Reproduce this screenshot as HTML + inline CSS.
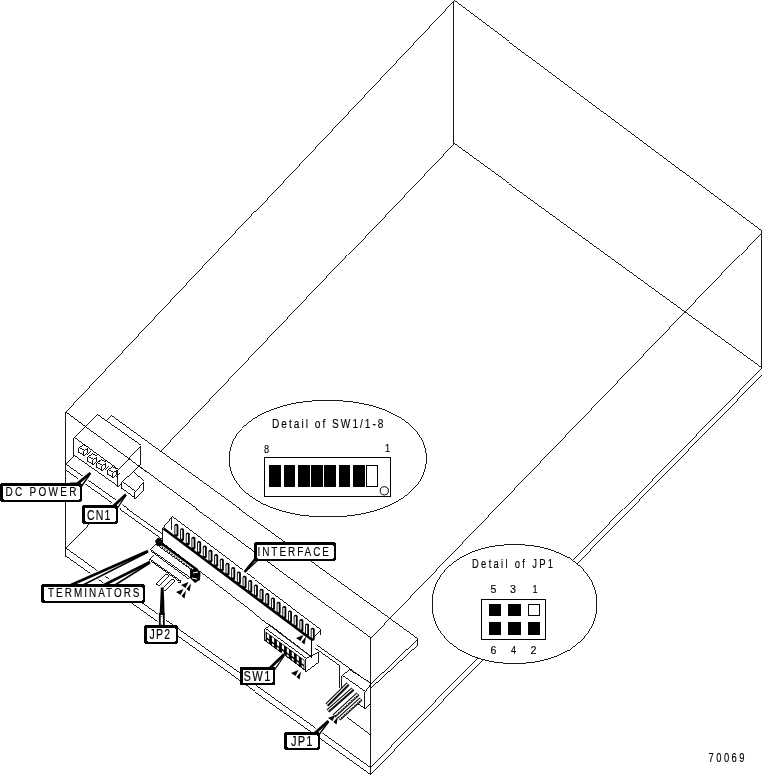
<!DOCTYPE html>
<html><head><meta charset="utf-8">
<style>
html,body{margin:0;padding:0;background:#fff;width:762px;height:775px;overflow:hidden}
svg{position:absolute;left:0;top:0;display:block;will-change:transform}
text{font-family:"Liberation Sans",sans-serif;fill:#000;stroke:#000;stroke-width:0.15px}
</style></head><body>
<svg width="762" height="775" viewBox="0 0 762 775">
<g stroke="#000" stroke-width="0.9" fill="none" shape-rendering="crispEdges">
<path d="M453.5 0.5 L761.5 230.5 L761.5 367.5 L453.5 143.5 L453.5 0.5" />
<path d="M453.5 0.5 L65.5 412.5 L65.5 556.5" />
<path d="M453.5 143.5 L160.5 451.5" />
<path d="M65.5 548.5 L110.5 502.5" />
<path d="M760.5 233.5 L371.5 637.5" />
<path d="M761.5 367.5 L370.5 767.5" />
<path d="M762.5 374.5 L370.5 774.5" />
<path d="M65.5 412.5 L370.5 637.5" />
<path d="M110.5 415.5 L417.5 638.5 L417.5 644.5" />
<path d="M65.5 548.5 L370.5 767.5" />
<path d="M65.5 556.5 L370.5 774.5" />
<path d="M65.5 463.5 L73.5 455.5" />
<path d="M65.5 464.5 L370.5 683.5" />
<path d="M65.5 470.5 L339.5 665.5 L339.5 687.5" />
<path d="M417.5 638.5 L370.5 683.5" />
<path d="M417.5 644.5 L370.5 687.5" />
<path d="M346.5 717.5 L370.5 735.5" />
</g>
<path d="M73.5 437.5 L96.5 414.5 L140.5 445.5 L140.5 463.5 L117.5 486.5 L73.5 455.5 Z" fill="#fff" stroke="#000" stroke-width="0.9" shape-rendering="crispEdges"/>
<g stroke="#000" stroke-width="0.9" fill="none" shape-rendering="crispEdges">
<path d="M73.5 437.5 L117.5 469.5 L140.5 445.5" />
<path d="M117.5 469.5 L117.5 486.5" />
<path d="M65.5 412.5 L146.5 472.5" />
<path d="M105.5 420.5 L110.5 415.5" />
<path d="M78.5 447.5 L83.5 450.5 L83.5 455.5 L78.5 452.5 L78.5 447.5" />
<path d="M78.5 447.5 L82.5 444.5 L87.5 447.5 L83.5 450.5" />
<path d="M87.5 447.5 L87.5 451.5 L83.5 455.5" />
<path d="M86.5 454.5 L90.5 450.5" />
<path d="M87.5 456.5 L92.5 459.5 L92.5 464.5 L87.5 461.5 L87.5 456.5" />
<path d="M87.5 456.5 L91.5 453.5 L96.5 456.5 L92.5 459.5" />
<path d="M96.5 456.5 L96.5 460.5 L92.5 464.5" />
<path d="M95.5 463.5 L99.5 459.5" />
<path d="M96.5 462.5 L101.5 465.5 L101.5 470.5 L96.5 467.5 L96.5 462.5" />
<path d="M96.5 462.5 L100.5 459.5 L105.5 462.5 L101.5 465.5" />
<path d="M105.5 462.5 L105.5 466.5 L101.5 470.5" />
<path d="M104.5 469.5 L108.5 465.5" />
<path d="M107.5 469.5 L112.5 472.5 L112.5 477.5 L107.5 474.5 L107.5 469.5" />
<path d="M107.5 469.5 L111.5 466.5 L116.5 469.5 L112.5 472.5" />
<path d="M116.5 469.5 L116.5 473.5 L112.5 477.5" />
<path d="M115.5 476.5 L119.5 472.5" />
</g>
<path d="M121.5 481.5 L132.5 471.5 L143.5 481.5 L143.5 489.5 L134.5 498.5 L121.5 488.5 Z" fill="#fff" stroke="#000" stroke-width="0.9" shape-rendering="crispEdges"/>
<g stroke="#000" stroke-width="0.9" fill="none" shape-rendering="crispEdges">
<path d="M121.5 481.5 L134.5 491.5 L143.5 481.5" />
<path d="M134.5 491.5 L134.5 498.5" />
<path d="M132.5 471.5 L140.5 463.5" />
</g>
<path d="M162.50 527.50 L171.50 516.50 L320.50 629.50 L320.50 634.50 L311.50 657.50 L162.50 543.50 Z" fill="#fff"/>
<g stroke="#000" stroke-width="0.9" fill="none" shape-rendering="crispEdges">
<path d="M162.5 527.5 L171.5 516.5 L320.5 629.5 L320.5 634.5" />
<path d="M162.5 527.5 L162.5 543.5 L311.5 657.5 L311.5 638.5 L320.5 629.5" />
<path d="M171.5 516.5 L171.5 529.5" />
</g>
<g><rect x="174.40" y="523.80" width="4" height="13" rx="1.8" fill="#000"/><rect x="175.30" y="525.40" width="1.3" height="9" rx="0.6" fill="#fff"/><rect x="180.08" y="528.13" width="4" height="13" rx="1.8" fill="#000"/><rect x="180.98" y="529.73" width="1.3" height="9" rx="0.6" fill="#fff"/><rect x="185.76" y="532.46" width="4" height="13" rx="1.8" fill="#000"/><rect x="186.66" y="534.06" width="1.3" height="9" rx="0.6" fill="#fff"/><rect x="191.44" y="536.79" width="4" height="13" rx="1.8" fill="#000"/><rect x="192.34" y="538.39" width="1.3" height="9" rx="0.6" fill="#fff"/><rect x="197.12" y="541.12" width="4" height="13" rx="1.8" fill="#000"/><rect x="198.02" y="542.72" width="1.3" height="9" rx="0.6" fill="#fff"/><rect x="202.80" y="545.45" width="4" height="13" rx="1.8" fill="#000"/><rect x="203.70" y="547.05" width="1.3" height="9" rx="0.6" fill="#fff"/><rect x="208.48" y="549.78" width="4" height="13" rx="1.8" fill="#000"/><rect x="209.38" y="551.38" width="1.3" height="9" rx="0.6" fill="#fff"/><rect x="214.16" y="554.11" width="4" height="13" rx="1.8" fill="#000"/><rect x="215.06" y="555.71" width="1.3" height="9" rx="0.6" fill="#fff"/><rect x="219.84" y="558.44" width="4" height="13" rx="1.8" fill="#000"/><rect x="220.74" y="560.04" width="1.3" height="9" rx="0.6" fill="#fff"/><rect x="225.52" y="562.77" width="4" height="13" rx="1.8" fill="#000"/><rect x="226.42" y="564.37" width="1.3" height="9" rx="0.6" fill="#fff"/><rect x="231.20" y="567.10" width="4" height="13" rx="1.8" fill="#000"/><rect x="232.10" y="568.70" width="1.3" height="9" rx="0.6" fill="#fff"/><rect x="236.88" y="571.43" width="4" height="13" rx="1.8" fill="#000"/><rect x="237.78" y="573.03" width="1.3" height="9" rx="0.6" fill="#fff"/><rect x="242.56" y="575.76" width="4" height="13" rx="1.8" fill="#000"/><rect x="243.46" y="577.36" width="1.3" height="9" rx="0.6" fill="#fff"/><rect x="248.24" y="580.09" width="4" height="13" rx="1.8" fill="#000"/><rect x="249.14" y="581.69" width="1.3" height="9" rx="0.6" fill="#fff"/><rect x="253.92" y="584.42" width="4" height="13" rx="1.8" fill="#000"/><rect x="254.82" y="586.02" width="1.3" height="9" rx="0.6" fill="#fff"/><rect x="259.60" y="588.75" width="4" height="13" rx="1.8" fill="#000"/><rect x="260.50" y="590.35" width="1.3" height="9" rx="0.6" fill="#fff"/><rect x="265.28" y="593.08" width="4" height="13" rx="1.8" fill="#000"/><rect x="266.18" y="594.68" width="1.3" height="9" rx="0.6" fill="#fff"/><rect x="270.96" y="597.41" width="4" height="13" rx="1.8" fill="#000"/><rect x="271.86" y="599.01" width="1.3" height="9" rx="0.6" fill="#fff"/><rect x="276.64" y="601.74" width="4" height="13" rx="1.8" fill="#000"/><rect x="277.54" y="603.34" width="1.3" height="9" rx="0.6" fill="#fff"/><rect x="282.32" y="606.07" width="4" height="13" rx="1.8" fill="#000"/><rect x="283.22" y="607.67" width="1.3" height="9" rx="0.6" fill="#fff"/><rect x="288.00" y="610.40" width="4" height="13" rx="1.8" fill="#000"/><rect x="288.90" y="612.00" width="1.3" height="9" rx="0.6" fill="#fff"/><rect x="293.68" y="614.73" width="4" height="13" rx="1.8" fill="#000"/><rect x="294.58" y="616.33" width="1.3" height="9" rx="0.6" fill="#fff"/><rect x="299.36" y="619.06" width="4" height="13" rx="1.8" fill="#000"/><rect x="300.26" y="620.66" width="1.3" height="9" rx="0.6" fill="#fff"/><rect x="305.04" y="623.39" width="4" height="13" rx="1.8" fill="#000"/><rect x="305.94" y="624.99" width="1.3" height="9" rx="0.6" fill="#fff"/><rect x="310.72" y="627.72" width="4" height="13" rx="1.8" fill="#000"/><rect x="311.62" y="629.32" width="1.3" height="9" rx="0.6" fill="#fff"/></g>
<path d="M163.5 528.5 L311.5 639.5" stroke="#000" stroke-width="2.6" fill="none"/>
<path d="M264.50 628.50 L268.50 625.50 L311.50 657.50 L318.50 651.50 L318.50 661.50 L305.50 671.50 L264.50 640.50 Z" fill="#fff"/>
<g stroke="#000" stroke-width="0.9" fill="none" shape-rendering="crispEdges">
<path d="M264.5 628.5 L268.5 625.5" />
<path d="M264.5 628.5 L305.5 658.5 L318.5 651.5 L318.5 661.5 L305.5 671.5 L264.5 640.5 L264.5 628.5" />
<path d="M305.5 658.5 L305.5 671.5" />
<path d="M268.5 624.5 L311.5 657.5 L311.5 638.5" />
</g>
<path d="M265.60 631.60 L304.40 660.10 L304.40 670.00 L265.60 641.60 Z" fill="#000"/>
<path d="M267.00 633.35 L269.20 634.96 L269.20 639.36 L267.00 637.60 Z" fill="#fff"/>
<path d="M267.00 639.50 L269.00 640.97 L269.00 642.97 L267.00 641.50 Z" fill="#fff"/>
<path d="M271.95 636.99 L274.15 638.60 L274.15 643.00 L271.95 641.24 Z" fill="#fff"/>
<path d="M271.95 643.14 L273.95 644.61 L273.95 646.61 L271.95 645.14 Z" fill="#fff"/>
<path d="M276.90 640.62 L279.10 642.24 L279.10 646.64 L276.90 644.88 Z" fill="#fff"/>
<path d="M276.90 646.78 L278.90 648.25 L278.90 650.25 L276.90 648.78 Z" fill="#fff"/>
<path d="M281.85 644.26 L284.05 645.88 L284.05 650.28 L281.85 648.51 Z" fill="#fff"/>
<path d="M281.85 650.41 L283.85 651.88 L283.85 653.88 L281.85 652.41 Z" fill="#fff"/>
<path d="M286.80 647.90 L289.00 649.52 L289.00 653.92 L286.80 652.15 Z" fill="#fff"/>
<path d="M286.80 654.05 L288.80 655.52 L288.80 657.52 L286.80 656.05 Z" fill="#fff"/>
<path d="M291.75 651.54 L293.95 653.16 L293.95 657.56 L291.75 655.79 Z" fill="#fff"/>
<path d="M291.75 657.69 L293.75 659.16 L293.75 661.16 L291.75 659.69 Z" fill="#fff"/>
<path d="M296.70 655.18 L298.90 656.79 L298.90 661.19 L296.70 659.43 Z" fill="#fff"/>
<path d="M296.70 661.33 L298.70 662.80 L298.70 664.80 L296.70 663.33 Z" fill="#fff"/>
<path d="M301.65 658.81 L303.85 660.43 L303.85 664.83 L301.65 663.07 Z" fill="#fff"/>
<path d="M301.65 664.97 L303.65 666.44 L303.65 668.44 L301.65 666.97 Z" fill="#fff"/>
<g stroke="#000" stroke-width="0.9" fill="none" shape-rendering="crispEdges">
<path d="M149.5 549.5 L155.5 543.5" />
<path d="M149.5 549.5 L190.5 578.5" />
<path d="M150.5 551.5 L188.5 579.5" />
<path d="M149.5 558.5 L153.5 554.5" />
<path d="M149.5 558.5 L149.5 561.5" />
<path d="M149.5 559.5 L180.5 581.5" />
<path d="M150.5 561.5 L178.5 581.5" />
<path d="M177.5 582.5 L180.5 582.5 L180.5 579.5" />
<path d="M155.5 544.5 L195.5 573.5" />
</g>
<path d="M155.00 541.00 L158.00 537.50 L163.00 540.50 L163.00 545.50 L157.00 546.00 Z" fill="#000"/>
<path d="M158 541 L196 569" stroke="#000" stroke-width="2.2"/>
<path d="M157 543 L194 571" stroke="#000" stroke-width="1.2" stroke-dasharray="1.6 1.4"/>
<path d="M190.00 570.00 L197.00 568.00 L200.50 573.00 L200.00 580.00 L195.00 583.00 L190.00 578.00 Z" fill="#000"/>
<path d="M193 573 L198 572 M192 578 L197 579" stroke="#fff" stroke-width="1"/>
<path d="M156 584 L166 574 L169 576 L159 586 Z" fill="#fff" stroke="#000" stroke-width="0.9" shape-rendering="crispEdges"/>
<path d="M162 589 L172 579 L175 581 L165 591 Z" fill="#fff" stroke="#000" stroke-width="0.9" shape-rendering="crispEdges"/>
<path d="M341.50 675.50 L348.50 669.50 L370.50 683.50 L370.50 702.50 L364.50 708.50 L341.50 690.50 Z" fill="#fff"/>
<g stroke="#000" stroke-width="0.9" fill="none" shape-rendering="crispEdges">
<path d="M341.5 675.5 L348.5 669.5 L370.5 683.5" />
<path d="M341.5 675.5 L364.5 691.5 L370.5 683.5" />
<path d="M341.5 675.5 L341.5 688.5" />
<path d="M364.5 691.5 L364.5 708.5 L370.5 702.5" />
<path d="M356.5 703.5 L364.5 708.5" />
<path d="M370.5 637.5 L370.5 775.5" />
</g>
<path d="M348 684 L327 705" stroke="#000" stroke-width="4.2" stroke-linecap="butt"/>
<path d="M348 684 L327 705" stroke="#fff" stroke-width="2.2"/>
<path d="M348.5 684.5 L327.5 705.5" stroke="#000" stroke-width="1.1"/>
<path d="M353 689 L328 711" stroke="#000" stroke-width="4.2" stroke-linecap="butt"/>
<path d="M353 689 L328 711" stroke="#fff" stroke-width="2.2"/>
<path d="M353.5 689.5 L328.5 711.5" stroke="#000" stroke-width="1.1"/>
<path d="M358 694 L334 716" stroke="#000" stroke-width="4.2" stroke-linecap="butt"/>
<path d="M358 694 L334 716" stroke="#fff" stroke-width="2.2"/>
<path d="M358.5 694.5 L334.5 716.5" stroke="#000" stroke-width="1.2" stroke-dasharray="1.2 1"/>
<path d="M361 699 L339 719" stroke="#000" stroke-width="4.2" stroke-linecap="butt"/>
<path d="M361 699 L339 719" stroke="#fff" stroke-width="2.2"/>
<path d="M361.5 699.5 L339.5 719.5" stroke="#000" stroke-width="1.2" stroke-dasharray="1.2 1"/>
<path d="M296.00 638.00 L303.50 635.00 L300.50 641.00 Z" fill="#000"/>
<path d="M304.50 644.50 L306.00 636.50 L301.50 642.00 Z" fill="#000"/>
<path d="M291.00 673.00 L298.50 670.00 L295.50 676.00 Z" fill="#000"/>
<path d="M299.50 679.50 L301.00 671.50 L296.50 677.00 Z" fill="#000"/>
<path d="M181.00 585.00 L188.50 582.00 L185.50 588.00 Z" fill="#000"/>
<path d="M189.50 591.50 L191.00 583.50 L186.50 589.00 Z" fill="#000"/>
<path d="M176.00 592.00 L183.50 589.00 L180.50 595.00 Z" fill="#000"/>
<path d="M184.50 598.50 L186.00 590.50 L181.50 596.00 Z" fill="#000"/>
<path d="M328.00 718.00 L335.50 715.00 L332.50 721.00 Z" fill="#000"/>
<path d="M336.50 724.50 L338.00 716.50 L333.50 722.00 Z" fill="#000"/>
<path d="M70 484 L77 484 L90.5 473" stroke="#fff" stroke-width="5.8" fill="none" stroke-linejoin="round"/>
<path d="M81 487 L89.5 475" stroke="#fff" stroke-width="4.3" fill="none"/>
<path d="M70 484 L77 484 L90.5 473" stroke="#000" stroke-width="2.8" fill="none"/>
<path d="M81 487 L89.5 475" stroke="#000" stroke-width="1.3" fill="none"/>
<path d="M105 506.5 L113 506.5 L126 494.5" stroke="#fff" stroke-width="5.8" fill="none" stroke-linejoin="round"/>
<path d="M117.5 508 L125.5 496" stroke="#fff" stroke-width="4.3" fill="none"/>
<path d="M105 506.5 L113 506.5 L126 494.5" stroke="#000" stroke-width="2.8" fill="none"/>
<path d="M117.5 508 L125.5 496" stroke="#000" stroke-width="1.3" fill="none"/>
<path d="M71 585 L148 551" stroke="#fff" stroke-width="5.6" fill="none" stroke-linejoin="round"/>
<path d="M83 585 L148 552" stroke="#fff" stroke-width="4.5" fill="none"/>
<path d="M71 585 L148 551" stroke="#000" stroke-width="2.6" fill="none"/>
<path d="M83 585 L148 552" stroke="#000" stroke-width="1.5" fill="none"/>
<path d="M104 585 L150 562" stroke="#fff" stroke-width="5.6" fill="none" stroke-linejoin="round"/>
<path d="M115 585 L150 563" stroke="#fff" stroke-width="4.5" fill="none"/>
<path d="M104 585 L150 562" stroke="#000" stroke-width="2.6" fill="none"/>
<path d="M115 585 L150 563" stroke="#000" stroke-width="1.5" fill="none"/>
<path d="M256 558 L244.5 572" stroke="#fff" stroke-width="5.4" fill="none" stroke-linejoin="round"/>
<path d="M258 560 L245 572" stroke="#fff" stroke-width="4.3" fill="none"/>
<path d="M256 558 L244.5 572" stroke="#000" stroke-width="2.4" fill="none"/>
<path d="M258 560 L245 572" stroke="#000" stroke-width="1.3" fill="none"/>
<path d="M159.5 627 L159.5 614 L161.5 600 L162 588 L164 614 L164 627" stroke="#fff" stroke-width="4" fill="none"/>
<path d="M159.60 615.00 L160.30 600.00 L160.80 587.50 L163.60 587.50 L164.20 600.00 L164.60 615.00 Z" fill="#000"/>
<path d="M159.8 627 L159.8 613 M163.8 627 L163.8 613" stroke="#000" stroke-width="1.8" fill="none"/>
<path d="M270 668 L284 654.5" stroke="#fff" stroke-width="5.8" fill="none" stroke-linejoin="round"/>
<path d="M274.5 670 L284 656" stroke="#fff" stroke-width="4.3" fill="none"/>
<path d="M270 668 L284 654.5" stroke="#000" stroke-width="2.8" fill="none"/>
<path d="M274.5 670 L284 656" stroke="#000" stroke-width="1.3" fill="none"/>
<path d="M315 733 L328.5 721" stroke="#fff" stroke-width="5.8" fill="none" stroke-linejoin="round"/>
<path d="M319.5 734 L328.5 722" stroke="#fff" stroke-width="4.3" fill="none"/>
<path d="M315 733 L328.5 721" stroke="#000" stroke-width="2.8" fill="none"/>
<path d="M319.5 734 L328.5 722" stroke="#000" stroke-width="1.3" fill="none"/>
<rect x="0" y="483" width="82" height="19" rx="3" fill="#000" shape-rendering="crispEdges"/>
<rect x="2.5" y="485.5" width="77.0" height="14.0" rx="1" fill="#fff" shape-rendering="crispEdges"/>
<text transform="translate(5.5 496.0) scale(0.76 1)" font-size="13.14" textLength="93.4" lengthAdjust="spacing">DC POWER</text>
<rect x="82" y="505" width="36" height="19" rx="3" fill="#000" shape-rendering="crispEdges"/>
<rect x="84.5" y="507.5" width="31.0" height="14.0" rx="1" fill="#fff" shape-rendering="crispEdges"/>
<text transform="translate(87.0 520.0) scale(0.76 1)" font-size="13.87" textLength="30.9" lengthAdjust="spacing">CN1</text>
<rect x="41" y="584" width="104" height="19" rx="3" fill="#000" shape-rendering="crispEdges"/>
<rect x="43.5" y="586.5" width="99.0" height="14.0" rx="1" fill="#fff" shape-rendering="crispEdges"/>
<text transform="translate(48.0 597) scale(0.76 1)" font-size="13.08" textLength="120.4" lengthAdjust="spacing">TERMINATORS</text>
<rect x="254" y="542" width="82" height="19" rx="3" fill="#000" shape-rendering="crispEdges"/>
<rect x="256.5" y="544.5" width="77.0" height="14.0" rx="1" fill="#fff" shape-rendering="crispEdges"/>
<text transform="translate(257.5 555.5) scale(0.76 1)" font-size="13.14" textLength="94.1" lengthAdjust="spacing">INTERFACE</text>
<rect x="144" y="625" width="34" height="19" rx="3" fill="#000" shape-rendering="crispEdges"/>
<rect x="146.5" y="627.5" width="29.0" height="14.0" rx="1" fill="#fff" shape-rendering="crispEdges"/>
<text transform="translate(149.5 638.5) scale(0.76 1)" font-size="13.88" textLength="27.0" lengthAdjust="spacing">JP2</text>
<rect x="240" y="667" width="35" height="18" rx="1.5" fill="#000" shape-rendering="crispEdges"/>
<rect x="242.5" y="669.5" width="30.0" height="13.0" rx="0.8" fill="#fff" shape-rendering="crispEdges"/>
<text transform="translate(243.5 681.0) scale(0.76 1)" font-size="14.6" textLength="35.5" lengthAdjust="spacing">SW1</text>
<rect x="284" y="732" width="36" height="18" rx="3" fill="#000" shape-rendering="crispEdges"/>
<rect x="286.5" y="734.5" width="31.0" height="13.0" rx="1" fill="#fff" shape-rendering="crispEdges"/>
<text transform="translate(291 746.0) scale(0.76 1)" font-size="14.6" textLength="28.3" lengthAdjust="spacing">JP1</text>
<path d="M426.34 458.67 L426.21 462.18 L425.83 465.45 L425.18 468.62 L424.29 471.72 L423.14 474.75 L421.74 477.71 L420.10 480.59 L418.21 483.40 L416.08 486.13 L413.72 488.77 L411.14 491.33 L408.33 493.79 L405.30 496.15 L402.07 498.40 L398.63 500.54 L395.01 502.57 L391.19 504.49 L387.20 506.27 L383.04 507.93 L378.72 509.46 L374.25 510.86 L369.63 512.11 L364.88 513.23 L360.00 514.20 L354.99 515.03 L349.87 515.71 L344.63 516.24 L339.26 516.62 L333.73 516.84 L327.79 516.92 L321.85 516.84 L316.32 516.62 L310.95 516.24 L305.71 515.71 L300.59 515.03 L295.58 514.20 L290.70 513.23 L285.95 512.11 L281.33 510.86 L276.86 509.46 L272.54 507.93 L268.38 506.27 L264.39 504.49 L260.57 502.57 L256.95 500.54 L253.51 498.40 L250.28 496.15 L247.25 493.79 L244.44 491.33 L241.86 488.77 L239.50 486.13 L237.37 483.40 L235.48 480.59 L233.84 477.71 L232.44 474.75 L231.29 471.72 L230.40 468.62 L229.75 465.45 L229.37 462.18 L229.24 458.67 L229.37 455.16 L229.75 451.89 L230.40 448.72 L231.29 445.62 L232.44 442.59 L233.84 439.63 L235.48 436.75 L237.37 433.94 L239.50 431.21 L241.86 428.57 L244.44 426.01 L247.25 423.55 L250.28 421.19 L253.51 418.94 L256.95 416.80 L260.57 414.77 L264.39 412.85 L268.38 411.07 L272.54 409.41 L276.86 407.88 L281.33 406.48 L285.95 405.23 L290.70 404.11 L295.58 403.14 L300.59 402.31 L305.71 401.63 L310.95 401.10 L316.32 400.72 L321.85 400.50 L327.79 400.42 L333.73 400.50 L339.26 400.72 L344.63 401.10 L349.87 401.63 L354.99 402.31 L360.00 403.14 L364.88 404.11 L369.63 405.23 L374.25 406.48 L378.72 407.88 L383.04 409.41 L387.20 411.07 L391.19 412.85 L395.01 414.77 L398.63 416.80 L402.07 418.94 L405.30 421.19 L408.33 423.55 L411.14 426.01 L413.72 428.57 L416.08 431.21 L418.21 433.94 L420.10 436.75 L421.74 439.63 L423.14 442.59 L424.29 445.62 L425.18 448.72 L425.83 451.89 L426.21 455.16 Z" fill="#fff" stroke="#000" stroke-width="0.9" shape-rendering="crispEdges"/>
<text transform="translate(272.0 427.5) scale(0.76 1)" font-size="13.3" textLength="146.7" lengthAdjust="spacing">Detail of SW1/1-8</text>
<text transform="translate(264.0 453.0) scale(0.8 1)" font-size="11.52">8</text>
<text transform="translate(385.0 452.0) scale(0.8 1)" font-size="11.43">1</text>
<g shape-rendering="crispEdges">
<rect x="264.5" y="457.5" width="126" height="39" fill="none" stroke="#000"/>
<rect x="269" y="465" width="12" height="22"/>
<rect x="284" y="465" width="11" height="22"/>
<rect x="298" y="465" width="12" height="22"/>
<rect x="311" y="465" width="12" height="22"/>
<rect x="324" y="465" width="12" height="22"/>
<rect x="339" y="465" width="11" height="22"/>
<rect x="353" y="465" width="12" height="22"/>
<rect x="366.5" y="465.5" width="11" height="21" fill="none" stroke="#000"/>
</g>
<circle cx="384.3" cy="490.8" r="4.1" fill="none" stroke="#000"/>
<path d="M596.90 604.06 L596.79 607.64 L596.47 610.98 L595.93 614.22 L595.18 617.38 L594.22 620.47 L593.05 623.49 L591.68 626.43 L590.10 629.30 L588.32 632.08 L586.35 634.78 L584.18 637.39 L581.83 639.90 L579.30 642.31 L576.60 644.61 L573.73 646.80 L570.69 648.87 L567.50 650.82 L564.16 652.64 L560.68 654.34 L557.07 655.90 L553.33 657.32 L549.46 658.60 L545.49 659.74 L541.41 660.74 L537.22 661.58 L532.94 662.27 L528.56 662.81 L524.06 663.20 L519.43 663.43 L514.47 663.51 L509.51 663.43 L504.88 663.20 L500.38 662.81 L496.00 662.27 L491.72 661.58 L487.53 660.74 L483.45 659.74 L479.48 658.60 L475.61 657.32 L471.87 655.90 L468.26 654.34 L464.78 652.64 L461.44 650.82 L458.25 648.87 L455.21 646.80 L452.34 644.61 L449.64 642.31 L447.11 639.90 L444.76 637.39 L442.59 634.78 L440.62 632.08 L438.84 629.30 L437.26 626.43 L435.89 623.49 L434.72 620.47 L433.76 617.38 L433.01 614.22 L432.47 610.98 L432.15 607.64 L432.04 604.06 L432.15 600.48 L432.47 597.14 L433.01 593.90 L433.76 590.74 L434.72 587.65 L435.89 584.63 L437.26 581.69 L438.84 578.82 L440.62 576.04 L442.59 573.34 L444.76 570.73 L447.11 568.22 L449.64 565.81 L452.34 563.51 L455.21 561.32 L458.25 559.25 L461.44 557.30 L464.78 555.48 L468.26 553.78 L471.87 552.22 L475.61 550.80 L479.48 549.52 L483.45 548.38 L487.53 547.38 L491.72 546.54 L496.00 545.85 L500.38 545.31 L504.88 544.92 L509.51 544.69 L514.47 544.61 L519.43 544.69 L524.06 544.92 L528.56 545.31 L532.94 545.85 L537.22 546.54 L541.41 547.38 L545.49 548.38 L549.46 549.52 L553.33 550.80 L557.07 552.22 L560.68 553.78 L564.16 555.48 L567.50 557.30 L570.69 559.25 L573.73 561.32 L576.60 563.51 L579.30 565.81 L581.83 568.22 L584.18 570.73 L586.35 573.34 L588.32 576.04 L590.10 578.82 L591.68 581.69 L593.05 584.63 L594.22 587.65 L595.18 590.74 L595.93 593.90 L596.47 597.14 L596.79 600.48 Z" fill="#fff" stroke="#000" stroke-width="0.9" shape-rendering="crispEdges"/>
<text transform="translate(472.0 567.5) scale(0.76 1)" font-size="12.42" textLength="106.6" lengthAdjust="spacing">Detail of JP1</text>
<text transform="translate(490.5 593.0) scale(0.923 1)" font-size="11.52">5</text>
<text transform="translate(510.0 593.0) scale(0.938 1)" font-size="11.52">3</text>
<text transform="translate(532.5 593.0) scale(0.8 1)" font-size="11.52">1</text>
<text transform="translate(490.5 654.0) scale(0.923 1)" font-size="11.43">6</text>
<text transform="translate(511.0 654.0) scale(0.804 1)" font-size="11.43">4</text>
<text transform="translate(530.5 654.0) scale(0.938 1)" font-size="11.43">2</text>
<g shape-rendering="crispEdges">
<rect x="481.5" y="599.5" width="64" height="40" fill="none" stroke="#000"/>
<rect x="489" y="604" width="12" height="12"/><rect x="508" y="604" width="13" height="12"/>
<rect x="528.5" y="604.5" width="11" height="11" fill="none" stroke="#000"/>
<rect x="489" y="622" width="12" height="13"/><rect x="508" y="622" width="13" height="13"/><rect x="528" y="622" width="12" height="13"/>
</g>
<text transform="translate(708.5 761.5) scale(0.76 1)" font-size="12.37" textLength="47.4" lengthAdjust="spacing">70069</text>
</svg></body></html>
